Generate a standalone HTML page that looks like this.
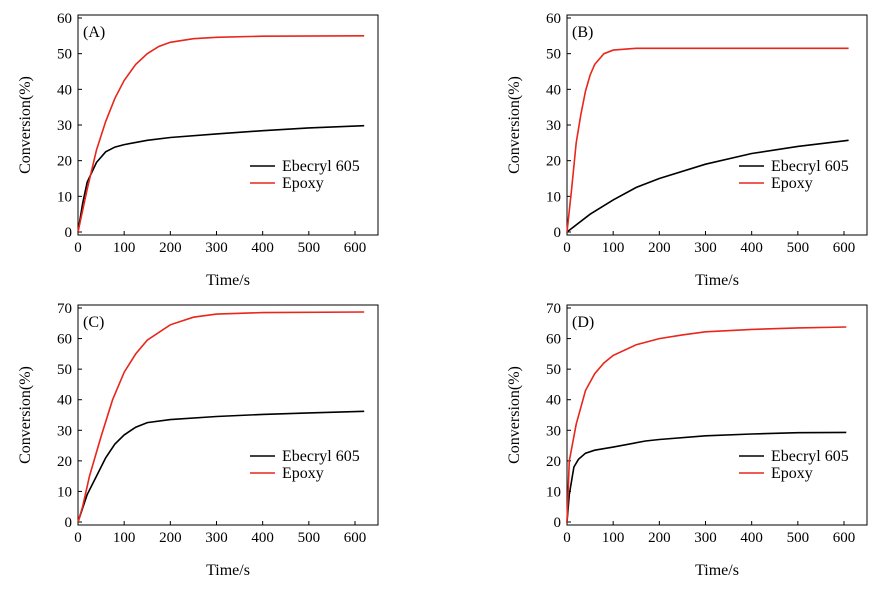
<!DOCTYPE html>
<html><head><meta charset="utf-8"><style>
body{margin:0;background:#fff;}
svg{display:block;font-family:"Liberation Serif",serif;}
</style></head><body>
<svg id="chart" width="885" height="594" viewBox="0 0 885 594"></svg>
<script>
const xTicks=[0,100,200,300,400,500,600];
const labelsP=["(A)","(B)","(C)","(D)"];
const yMaxP=[60,60,70,70];
const tA_black=[0,10,20,40,60,80,100,150,200,300,400,500,620];
const vA_black=[0,8,14,19.5,22.5,23.8,24.5,25.7,26.5,27.5,28.4,29.2,29.8];
const tA_red=[0,20,40,60,80,100,125,150,175,200,250,300,400,620];
const vA_red=[0,12,23,31,37.5,42.5,47,50,52,53.2,54.2,54.6,54.9,55];
const tB_black=[0,50,100,150,200,300,400,500,610];
const vB_black=[0,5,9,12.5,15,19,22,24,25.7];
const tB_red=[0,10,20,30,40,50,60,80,100,150,610];
const vB_red=[0,12,25,33,39.5,44,47,50,51,51.5,51.5];
const tC_black=[0,20,40,60,80,100,125,150,200,300,400,500,620];
const vC_black=[0,9,15,21,25.5,28.5,31,32.5,33.5,34.5,35.2,35.7,36.2];
const tC_red=[0,10,25,50,75,100,125,150,200,250,300,400,620];
const vC_red=[0,5,15,28,40,49,55,59.5,64.5,67,68,68.5,68.7];
const tD_black=[0,5,15,25,40,60,100,170,200,300,400,500,605];
const vD_black=[0,9,18,20.5,22.5,23.5,24.5,26.5,27,28.2,28.8,29.2,29.3];
const tD_red=[0,5,20,40,60,80,100,150,200,250,300,400,500,605];
const vD_red=[0,20,32,43,48.5,52,54.5,58,60,61.2,62.2,63,63.5,63.8];
const series=[[[tA_black,vA_black],[tA_red,vA_red]],[[tB_black,vB_black],[tB_red,vB_red]],[[tC_black,vC_black],[tC_red,vC_red]],[[tD_black,vD_black],[tD_red,vD_red]]];
const svg=document.getElementById('chart');
const NS='http://www.w3.org/2000/svg';
function mk(tag,a,p){const e=document.createElementNS(NS,tag);for(const k in a)e.setAttribute(k,a[k]);(p||svg).appendChild(e);return e;}
const origins=[[78,15],[567,15],[78,305],[567,305]];
const names=['a','b','c','d'];
origins.forEach((o,i)=>{
  const L=o[0],T=o[1],W=300,H=220;
  const g=mk('g',{});
  
  
  const xs=v=>L+v*277/600;
  const ys=v=>T+H-3-v*(H-6)/yMaxP[i];
  const f=mk('rect',{x:L,y:T,width:W,height:H,fill:'none',stroke:'#000','stroke-width':1},g);
  
  
  xTicks.forEach(v=>{
    mk('line',{x1:xs(v),x2:xs(v),y1:T+H,y2:T+H-4,stroke:'#000'},g);
    const t=mk('text',{x:xs(v),y:T+H+17,'font-size':15,'text-anchor':'middle'},g);t.textContent=v;
    
    
  });
  for(let v=0;v<=yMaxP[i];v+=10){
    mk('line',{x1:L,x2:L+4,y1:ys(v),y2:ys(v),stroke:'#000'},g);
    const t=mk('text',{x:L-6,y:ys(v)+5,'font-size':15,'text-anchor':'end'},g);t.textContent=v;
    
    
  }
  const xt=mk('text',{x:L+W/2,y:T+H+50,'font-size':16,'text-anchor':'middle'},g);xt.textContent='Time/s';
  
  
  const yt=mk('text',{x:0,y:0,'font-size':16,'text-anchor':'middle',transform:`translate(${L-48},${T+H/2}) rotate(-90)`},g);yt.textContent='Conversion(%)';
  
  
  const pl=mk('text',{x:L+5,y:T+22,'font-size':16},g);pl.textContent=labelsP[i];
  
  
  const cols=['#000','#e8261c'];
  series[i].forEach((s,k)=>{
    const d=s[0].map((t,j)=>(j?'L':'M')+xs(t).toFixed(1)+','+ys(s[1][j]).toFixed(1)).join('');
    const p=mk('path',{d:d,fill:'none',stroke:cols[k],'stroke-width':1.6},g);
    
    
  });
  const ly=T+151;
  ['Ebecryl 605','Epoxy'].forEach((n,k)=>{
    mk('line',{x1:L+172,x2:L+197,y1:ly+k*17,y2:ly+k*17,stroke:cols[k],'stroke-width':1.6},g);
    const t=mk('text',{x:L+204,y:ly+k*17+5,'font-size':16},g);t.textContent=n;
    
    
  });
});
</script>
</body></html>
